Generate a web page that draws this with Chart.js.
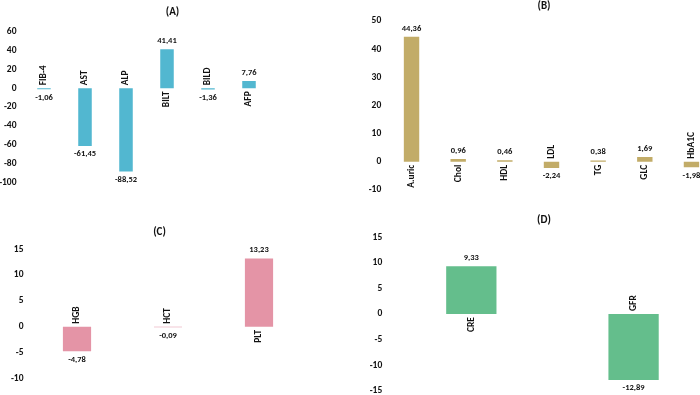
<!DOCTYPE html>
<html><head><meta charset="utf-8">
<script src="https://cdn.jsdelivr.net/npm/chart.js@4"></script>
<style>
html,body{margin:0;padding:0;width:700px;height:395px;overflow:hidden;background:#fff;position:relative}
.p{position:absolute}
</style></head><body>
<div class="p" style="left:0;top:0;width:345px;height:210px"><canvas id="cA"></canvas></div>
<div class="p" style="left:350px;top:0;width:388px;height:210px"><canvas id="cB"></canvas></div>
<div class="p" style="left:0;top:200px;width:319px;height:210px"><canvas id="cC"></canvas></div>
<div class="p" style="left:350px;top:200px;width:388px;height:210px"><canvas id="cD"></canvas></div>
<script>
// ---- data ----
const catsA = ['FIB-4','AST','ALP','BILT','BILD','AFP'];
const valsA = [-1.06,-61.45,-88.52,41.41,-1.36,7.76];
const ticksA = {min:-100, max:60, step:20};

const catsB = ['A.uric','Chol','HDL','LDL','TG','GLC','HbA1C'];
const valsB = [44.36,0.96,0.46,-2.24,0.38,1.69,-1.98];
const ticksB = {min:-10, max:50, step:10};

const catsC = ['HGB','HCT','PLT'];
const valsC = [-4.78,-0.09,13.23];
const ticksC = {min:-10, max:15, step:5};

const catsD = ['CRE','GFR'];
const valsD = [9.33,-12.89];
const ticksD = {min:-15, max:15, step:5};

const FONT = 'Carlito, Lato, sans-serif';
const TXT = '#111111';

const labelPlugin = {
  id: 'panelLabels',
  afterDatasetsDraw(chart, args, opts) {
    const ctx = chart.ctx;
    const meta = chart.getDatasetMeta(0);
    const data = chart.data.datasets[0].data;
    const cats = chart.data.labels;
    ctx.save();
    ctx.fillStyle = TXT;
    meta.data.forEach((bar, i) => {
      const v = data[i];
      const base = bar.base;
      const txt = v.toFixed(2).replace('.', ',');
      ctx.font = 'bold 8.5px ' + FONT;
      ctx.textAlign = 'center';
      if (v >= 0) {
        ctx.textBaseline = 'bottom';
        ctx.fillText(txt, bar.x, bar.y - 4);
      } else {
        ctx.textBaseline = 'top';
        ctx.fillText(txt, bar.x, bar.y + 4);
      }
      // category label, rotated
      ctx.save();
      ctx.font = 'bold 9.5px ' + FONT;
      ctx.textBaseline = 'middle';
      if (v >= 0) {
        ctx.translate(bar.x, base + 3);
        ctx.rotate(-Math.PI / 2);
        ctx.textAlign = 'right';
      } else {
        ctx.translate(bar.x, base - 3);
        ctx.rotate(-Math.PI / 2);
        ctx.textAlign = 'left';
      }
      ctx.fillText(cats[i], 0, 0);
      ctx.restore();
    });
    // title
    ctx.font = 'bold 11px ' + FONT;
    ctx.textAlign = 'center';
    ctx.textBaseline = 'middle';
    ctx.fillText(opts.title, chart.width / 2, opts.titleY);
    ctx.restore();
  }
};

function makeChart(id, cats, vals, tk, color, geom) {
  new Chart(document.getElementById(id), {
    type: 'bar',
    data: { labels: cats, datasets: [{ data: vals, backgroundColor: color, borderWidth: 0,
      barPercentage: geom.bar, categoryPercentage: 1 }] },
    options: {
      responsive: true, maintainAspectRatio: false, animation: false,
      layout: { padding: { left: 0, top: geom.top, bottom: geom.bottom, right: geom.right } },
      plugins: { legend: { display: false }, tooltip: { enabled: false },
        panelLabels: { title: geom.title, titleY: geom.titleY } },
      scales: {
        x: { display: false, offset: true },
        y: {
          min: tk.min, max: tk.max,
          border: { display: false },
          grid: { display: false, drawTicks: false },
          ticks: { stepSize: tk.step, padding: geom.tpad, color: TXT,
                   font: { family: FONT, size: 9.5, weight: 'bold' } },
          afterFit(s) { s.width = geom.yw; }
        }
      }
    },
    plugins: [labelPlugin]
  });
}

makeChart('cA', catsA, valsA, ticksA, '#52B7D0',
  { yw: 23.5, top: 31.8, bottom: 27.6, right: 75.5, bar: 0.33, tpad: 7, title: '(A)', titleY: 12.5 });
makeChart('cB', catsB, valsB, ticksB, '#C2AC68',
  { yw: 38.2, top: 21, bottom: 20.2, right: 23.2, bar: 0.33, tpad: 7, title: '(B)', titleY: 6 });
makeChart('cC', catsC, valsC, ticksC, '#E494A6',
  { yw: 31.5, top: 49.3, bottom: 31.7, right: 14.5, bar: 0.31, tpad: 8, title: '(C)', titleY: 32 });
makeChart('cD', catsD, valsD, ticksD, '#64BE8C',
  { yw: 40.2, top: 37.3, bottom: 19.3, right: 23.3, bar: 0.31, tpad: 8, title: '(D)', titleY: 20 });
</script>
</body></html>
